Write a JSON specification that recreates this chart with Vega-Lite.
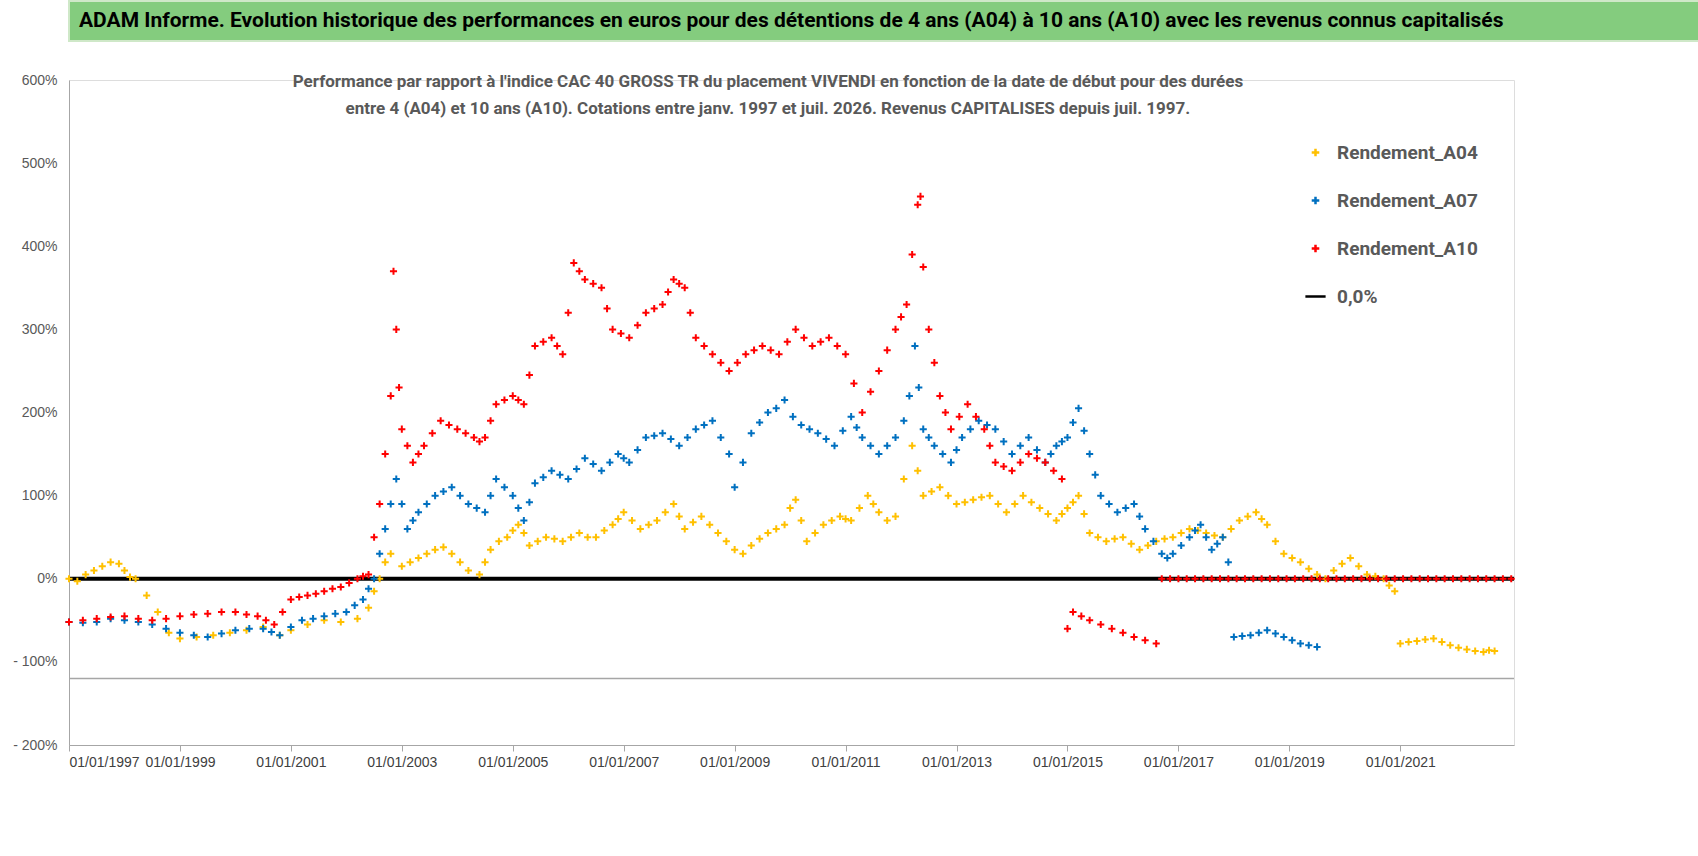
{
"$schema":"https://vega.github.io/schema/vega-lite/v6.json",
"background":"white","padding":{"left":12,"top":0,"right":0,"bottom":0},
"config":{"font":"Roboto","concat":{"spacing":30}},
"vconcat":[
{"width":1676,"height":40,"view":{"fill":"#84CC7E","stroke":"#CFE8C8","strokeWidth":2},
 "data":{"values":[{"t":"ADAM Informe. Evolution historique des performances en euros pour des détentions de 4 ans (A04) à 10 ans (A10) avec les revenus connus capitalisés"}]},
 "mark":{"type":"text","fontSize":21,"fontWeight":"bold","color":"black","x":10,"y":20,"align":"left","baseline":"middle","font":"Roboto"},
 "encoding":{"text":{"field":"t"}}},
{"width":1445,"height":665,
 "layer":[
 {"data":{"values":[{"v":-120}]},"mark":{"type":"rule","color":"#A6A6A6","strokeWidth":1.5},"encoding":{"y":{"field":"v","type":"quantitative"}}},
 {"data":{"values":[{"a":"Performance par rapport à l'indice CAC 40 GROSS TR  du placement VIVENDI en fonction de la date de début pour des durées","x":2009.6,"y":597},{"a":"entre 4 (A04) et 10 ans (A10).  Cotations entre janv. 1997 et juil. 2026. Revenus CAPITALISES depuis juil. 1997.","x":2009.6,"y":565}]},
  "mark":{"type":"text","fontSize":17,"fontWeight":"bold","color":"#595959"},
  "encoding":{"x":{"field":"x","type":"quantitative"},"y":{"field":"y","type":"quantitative"},"text":{"field":"a"}}},
 {"data":{"values":[{"v":0,"s":"0,0%"}]},"mark":{"type":"rule","strokeWidth":4},"encoding":{"y":{"field":"v","type":"quantitative"},"color":{"field":"s","type":"nominal"}}},
 {"data":{"values":[
{"t":1997.0,"v":0,"s":"Rendement_A04"},{"t":1997.15,"v":-3,"s":"Rendement_A04"},{"t":1997.3,"v":5,"s":"Rendement_A04"},{"t":1997.45,"v":10,"s":"Rendement_A04"},{"t":1997.6,"v":15,"s":"Rendement_A04"},{"t":1997.75,"v":20,"s":"Rendement_A04"},{"t":1997.9,"v":18,"s":"Rendement_A04"},{"t":1998.0,"v":10,"s":"Rendement_A04"},{"t":1998.1,"v":2,"s":"Rendement_A04"},{"t":1998.2,"v":0,"s":"Rendement_A04"},{"t":1998.4,"v":-20,"s":"Rendement_A04"},{"t":1998.6,"v":-40,"s":"Rendement_A04"},{"t":1998.8,"v":-65,"s":"Rendement_A04"},{"t":1999.0,"v":-72,"s":"Rendement_A04"},{"t":1999.3,"v":-70,"s":"Rendement_A04"},{"t":1999.6,"v":-68,"s":"Rendement_A04"},{"t":1999.9,"v":-65,"s":"Rendement_A04"},{"t":2000.2,"v":-62,"s":"Rendement_A04"},{"t":2000.5,"v":-58,"s":"Rendement_A04"},{"t":2000.8,"v":-68,"s":"Rendement_A04"},{"t":2001.0,"v":-62,"s":"Rendement_A04"},{"t":2001.3,"v":-55,"s":"Rendement_A04"},{"t":2001.6,"v":-50,"s":"Rendement_A04"},{"t":2001.9,"v":-52,"s":"Rendement_A04"},{"t":2002.2,"v":-48,"s":"Rendement_A04"},{"t":2002.4,"v":-35,"s":"Rendement_A04"},{"t":2002.5,"v":-15,"s":"Rendement_A04"},{"t":2002.6,"v":0,"s":"Rendement_A04"},{"t":2002.7,"v":20,"s":"Rendement_A04"},{"t":2002.8,"v":30,"s":"Rendement_A04"},{"t":2003.0,"v":15,"s":"Rendement_A04"},{"t":2003.15,"v":20,"s":"Rendement_A04"},{"t":2003.3,"v":25,"s":"Rendement_A04"},{"t":2003.45,"v":30,"s":"Rendement_A04"},{"t":2003.6,"v":35,"s":"Rendement_A04"},{"t":2003.75,"v":38,"s":"Rendement_A04"},{"t":2003.9,"v":30,"s":"Rendement_A04"},{"t":2004.05,"v":20,"s":"Rendement_A04"},{"t":2004.2,"v":10,"s":"Rendement_A04"},{"t":2004.4,"v":5,"s":"Rendement_A04"},{"t":2004.5,"v":20,"s":"Rendement_A04"},{"t":2004.6,"v":35,"s":"Rendement_A04"},{"t":2004.75,"v":45,"s":"Rendement_A04"},{"t":2004.9,"v":50,"s":"Rendement_A04"},{"t":2005.0,"v":58,"s":"Rendement_A04"},{"t":2005.1,"v":65,"s":"Rendement_A04"},{"t":2005.2,"v":55,"s":"Rendement_A04"},{"t":2005.3,"v":40,"s":"Rendement_A04"},{"t":2005.45,"v":45,"s":"Rendement_A04"},{"t":2005.6,"v":50,"s":"Rendement_A04"},{"t":2005.75,"v":48,"s":"Rendement_A04"},{"t":2005.9,"v":45,"s":"Rendement_A04"},{"t":2006.05,"v":50,"s":"Rendement_A04"},{"t":2006.2,"v":55,"s":"Rendement_A04"},{"t":2006.35,"v":50,"s":"Rendement_A04"},{"t":2006.5,"v":50,"s":"Rendement_A04"},{"t":2006.65,"v":58,"s":"Rendement_A04"},{"t":2006.8,"v":65,"s":"Rendement_A04"},{"t":2006.9,"v":72,"s":"Rendement_A04"},{"t":2007.0,"v":80,"s":"Rendement_A04"},{"t":2007.15,"v":70,"s":"Rendement_A04"},{"t":2007.3,"v":60,"s":"Rendement_A04"},{"t":2007.45,"v":65,"s":"Rendement_A04"},{"t":2007.6,"v":70,"s":"Rendement_A04"},{"t":2007.75,"v":80,"s":"Rendement_A04"},{"t":2007.9,"v":90,"s":"Rendement_A04"},{"t":2008.0,"v":75,"s":"Rendement_A04"},{"t":2008.1,"v":60,"s":"Rendement_A04"},{"t":2008.25,"v":68,"s":"Rendement_A04"},{"t":2008.4,"v":75,"s":"Rendement_A04"},{"t":2008.55,"v":65,"s":"Rendement_A04"},{"t":2008.7,"v":55,"s":"Rendement_A04"},{"t":2008.85,"v":45,"s":"Rendement_A04"},{"t":2009.0,"v":35,"s":"Rendement_A04"},{"t":2009.15,"v":30,"s":"Rendement_A04"},{"t":2009.3,"v":40,"s":"Rendement_A04"},{"t":2009.45,"v":48,"s":"Rendement_A04"},{"t":2009.6,"v":55,"s":"Rendement_A04"},{"t":2009.75,"v":60,"s":"Rendement_A04"},{"t":2009.9,"v":65,"s":"Rendement_A04"},{"t":2010.0,"v":85,"s":"Rendement_A04"},{"t":2010.1,"v":95,"s":"Rendement_A04"},{"t":2010.2,"v":70,"s":"Rendement_A04"},{"t":2010.3,"v":45,"s":"Rendement_A04"},{"t":2010.45,"v":55,"s":"Rendement_A04"},{"t":2010.6,"v":65,"s":"Rendement_A04"},{"t":2010.75,"v":70,"s":"Rendement_A04"},{"t":2010.9,"v":75,"s":"Rendement_A04"},{"t":2011.0,"v":72,"s":"Rendement_A04"},{"t":2011.1,"v":70,"s":"Rendement_A04"},{"t":2011.25,"v":85,"s":"Rendement_A04"},{"t":2011.4,"v":100,"s":"Rendement_A04"},{"t":2011.5,"v":90,"s":"Rendement_A04"},{"t":2011.6,"v":80,"s":"Rendement_A04"},{"t":2011.75,"v":70,"s":"Rendement_A04"},{"t":2011.9,"v":75,"s":"Rendement_A04"},{"t":2012.05,"v":120,"s":"Rendement_A04"},{"t":2012.2,"v":160,"s":"Rendement_A04"},{"t":2012.3,"v":130,"s":"Rendement_A04"},{"t":2012.4,"v":100,"s":"Rendement_A04"},{"t":2012.55,"v":105,"s":"Rendement_A04"},{"t":2012.7,"v":110,"s":"Rendement_A04"},{"t":2012.85,"v":100,"s":"Rendement_A04"},{"t":2013.0,"v":90,"s":"Rendement_A04"},{"t":2013.15,"v":92,"s":"Rendement_A04"},{"t":2013.3,"v":95,"s":"Rendement_A04"},{"t":2013.45,"v":98,"s":"Rendement_A04"},{"t":2013.6,"v":100,"s":"Rendement_A04"},{"t":2013.75,"v":90,"s":"Rendement_A04"},{"t":2013.9,"v":80,"s":"Rendement_A04"},{"t":2014.05,"v":90,"s":"Rendement_A04"},{"t":2014.2,"v":100,"s":"Rendement_A04"},{"t":2014.35,"v":92,"s":"Rendement_A04"},{"t":2014.5,"v":85,"s":"Rendement_A04"},{"t":2014.65,"v":78,"s":"Rendement_A04"},{"t":2014.8,"v":70,"s":"Rendement_A04"},{"t":2014.9,"v":78,"s":"Rendement_A04"},{"t":2015.0,"v":85,"s":"Rendement_A04"},{"t":2015.1,"v":92,"s":"Rendement_A04"},{"t":2015.2,"v":100,"s":"Rendement_A04"},{"t":2015.3,"v":78,"s":"Rendement_A04"},{"t":2015.4,"v":55,"s":"Rendement_A04"},{"t":2015.55,"v":50,"s":"Rendement_A04"},{"t":2015.7,"v":45,"s":"Rendement_A04"},{"t":2015.85,"v":48,"s":"Rendement_A04"},{"t":2016.0,"v":50,"s":"Rendement_A04"},{"t":2016.15,"v":42,"s":"Rendement_A04"},{"t":2016.3,"v":35,"s":"Rendement_A04"},{"t":2016.45,"v":40,"s":"Rendement_A04"},{"t":2016.6,"v":45,"s":"Rendement_A04"},{"t":2016.75,"v":48,"s":"Rendement_A04"},{"t":2016.9,"v":50,"s":"Rendement_A04"},{"t":2017.05,"v":55,"s":"Rendement_A04"},{"t":2017.2,"v":60,"s":"Rendement_A04"},{"t":2017.35,"v":58,"s":"Rendement_A04"},{"t":2017.5,"v":55,"s":"Rendement_A04"},{"t":2017.65,"v":52,"s":"Rendement_A04"},{"t":2017.8,"v":50,"s":"Rendement_A04"},{"t":2017.95,"v":60,"s":"Rendement_A04"},{"t":2018.1,"v":70,"s":"Rendement_A04"},{"t":2018.25,"v":75,"s":"Rendement_A04"},{"t":2018.4,"v":80,"s":"Rendement_A04"},{"t":2018.5,"v":72,"s":"Rendement_A04"},{"t":2018.6,"v":65,"s":"Rendement_A04"},{"t":2018.75,"v":45,"s":"Rendement_A04"},{"t":2018.9,"v":30,"s":"Rendement_A04"},{"t":2019.05,"v":25,"s":"Rendement_A04"},{"t":2019.2,"v":20,"s":"Rendement_A04"},{"t":2019.35,"v":12,"s":"Rendement_A04"},{"t":2019.5,"v":5,"s":"Rendement_A04"},{"t":2019.65,"v":0,"s":"Rendement_A04"},{"t":2019.8,"v":10,"s":"Rendement_A04"},{"t":2019.95,"v":18,"s":"Rendement_A04"},{"t":2020.1,"v":25,"s":"Rendement_A04"},{"t":2020.25,"v":15,"s":"Rendement_A04"},{"t":2020.4,"v":5,"s":"Rendement_A04"},{"t":2020.55,"v":3,"s":"Rendement_A04"},{"t":2020.7,"v":0,"s":"Rendement_A04"},{"t":2020.8,"v":-8,"s":"Rendement_A04"},{"t":2020.9,"v":-15,"s":"Rendement_A04"},
{"t":2021.0,"v":-78,"s":"Rendement_A04"},{"t":2021.15,"v":-76,"s":"Rendement_A04"},{"t":2021.3,"v":-75,"s":"Rendement_A04"},{"t":2021.45,"v":-73,"s":"Rendement_A04"},{"t":2021.6,"v":-72,"s":"Rendement_A04"},{"t":2021.75,"v":-76,"s":"Rendement_A04"},{"t":2021.9,"v":-80,"s":"Rendement_A04"},{"t":2022.05,"v":-83,"s":"Rendement_A04"},{"t":2022.2,"v":-85,"s":"Rendement_A04"},{"t":2022.35,"v":-87,"s":"Rendement_A04"},{"t":2022.5,"v":-88,"s":"Rendement_A04"},{"t":2022.6,"v":-86,"s":"Rendement_A04"},{"t":2022.7,"v":-87,"s":"Rendement_A04"},
{"t":1997.0,"v":-52,"s":"Rendement_A07"},{"t":1997.25,"v":-53,"s":"Rendement_A07"},{"t":1997.5,"v":-52,"s":"Rendement_A07"},{"t":1997.75,"v":-48,"s":"Rendement_A07"},{"t":1998.0,"v":-50,"s":"Rendement_A07"},{"t":1998.25,"v":-52,"s":"Rendement_A07"},{"t":1998.5,"v":-55,"s":"Rendement_A07"},{"t":1998.75,"v":-60,"s":"Rendement_A07"},{"t":1999.0,"v":-65,"s":"Rendement_A07"},{"t":1999.25,"v":-68,"s":"Rendement_A07"},{"t":1999.5,"v":-70,"s":"Rendement_A07"},{"t":1999.75,"v":-66,"s":"Rendement_A07"},{"t":2000.0,"v":-62,"s":"Rendement_A07"},{"t":2000.25,"v":-60,"s":"Rendement_A07"},{"t":2000.5,"v":-60,"s":"Rendement_A07"},{"t":2000.65,"v":-64,"s":"Rendement_A07"},{"t":2000.8,"v":-68,"s":"Rendement_A07"},{"t":2001.0,"v":-58,"s":"Rendement_A07"},{"t":2001.2,"v":-50,"s":"Rendement_A07"},{"t":2001.4,"v":-48,"s":"Rendement_A07"},{"t":2001.6,"v":-45,"s":"Rendement_A07"},{"t":2001.8,"v":-42,"s":"Rendement_A07"},{"t":2002.0,"v":-40,"s":"Rendement_A07"},{"t":2002.15,"v":-32,"s":"Rendement_A07"},{"t":2002.3,"v":-25,"s":"Rendement_A07"},{"t":2002.4,"v":-12,"s":"Rendement_A07"},{"t":2002.5,"v":0,"s":"Rendement_A07"},{"t":2002.6,"v":30,"s":"Rendement_A07"},{"t":2002.7,"v":60,"s":"Rendement_A07"},{"t":2002.8,"v":90,"s":"Rendement_A07"},{"t":2002.9,"v":120,"s":"Rendement_A07"},{"t":2003.0,"v":90,"s":"Rendement_A07"},{"t":2003.1,"v":60,"s":"Rendement_A07"},{"t":2003.2,"v":70,"s":"Rendement_A07"},{"t":2003.3,"v":80,"s":"Rendement_A07"},{"t":2003.45,"v":90,"s":"Rendement_A07"},{"t":2003.6,"v":100,"s":"Rendement_A07"},{"t":2003.75,"v":105,"s":"Rendement_A07"},{"t":2003.9,"v":110,"s":"Rendement_A07"},{"t":2004.05,"v":100,"s":"Rendement_A07"},{"t":2004.2,"v":90,"s":"Rendement_A07"},{"t":2004.35,"v":85,"s":"Rendement_A07"},{"t":2004.5,"v":80,"s":"Rendement_A07"},{"t":2004.6,"v":100,"s":"Rendement_A07"},{"t":2004.7,"v":120,"s":"Rendement_A07"},{"t":2004.85,"v":110,"s":"Rendement_A07"},{"t":2005.0,"v":100,"s":"Rendement_A07"},{"t":2005.1,"v":85,"s":"Rendement_A07"},{"t":2005.2,"v":70,"s":"Rendement_A07"},{"t":2005.3,"v":92,"s":"Rendement_A07"},{"t":2005.4,"v":115,"s":"Rendement_A07"},{"t":2005.55,"v":122,"s":"Rendement_A07"},{"t":2005.7,"v":130,"s":"Rendement_A07"},{"t":2005.85,"v":125,"s":"Rendement_A07"},{"t":2006.0,"v":120,"s":"Rendement_A07"},{"t":2006.15,"v":132,"s":"Rendement_A07"},{"t":2006.3,"v":145,"s":"Rendement_A07"},{"t":2006.45,"v":138,"s":"Rendement_A07"},{"t":2006.6,"v":130,"s":"Rendement_A07"},{"t":2006.75,"v":140,"s":"Rendement_A07"},{"t":2006.9,"v":150,"s":"Rendement_A07"},{"t":2007.0,"v":145,"s":"Rendement_A07"},{"t":2007.1,"v":140,"s":"Rendement_A07"},{"t":2007.25,"v":155,"s":"Rendement_A07"},{"t":2007.4,"v":170,"s":"Rendement_A07"},{"t":2007.55,"v":172,"s":"Rendement_A07"},{"t":2007.7,"v":175,"s":"Rendement_A07"},{"t":2007.85,"v":168,"s":"Rendement_A07"},{"t":2008.0,"v":160,"s":"Rendement_A07"},{"t":2008.15,"v":170,"s":"Rendement_A07"},{"t":2008.3,"v":180,"s":"Rendement_A07"},{"t":2008.45,"v":185,"s":"Rendement_A07"},{"t":2008.6,"v":190,"s":"Rendement_A07"},{"t":2008.75,"v":170,"s":"Rendement_A07"},{"t":2008.9,"v":150,"s":"Rendement_A07"},{"t":2009.0,"v":110,"s":"Rendement_A07"},{"t":2009.15,"v":140,"s":"Rendement_A07"},{"t":2009.3,"v":175,"s":"Rendement_A07"},{"t":2009.45,"v":188,"s":"Rendement_A07"},{"t":2009.6,"v":200,"s":"Rendement_A07"},{"t":2009.75,"v":205,"s":"Rendement_A07"},{"t":2009.9,"v":215,"s":"Rendement_A07"},{"t":2010.05,"v":195,"s":"Rendement_A07"},{"t":2010.2,"v":185,"s":"Rendement_A07"},{"t":2010.35,"v":180,"s":"Rendement_A07"},{"t":2010.5,"v":175,"s":"Rendement_A07"},{"t":2010.65,"v":168,"s":"Rendement_A07"},{"t":2010.8,"v":160,"s":"Rendement_A07"},{"t":2010.95,"v":178,"s":"Rendement_A07"},{"t":2011.1,"v":195,"s":"Rendement_A07"},{"t":2011.2,"v":182,"s":"Rendement_A07"},{"t":2011.3,"v":170,"s":"Rendement_A07"},{"t":2011.45,"v":160,"s":"Rendement_A07"},{"t":2011.6,"v":150,"s":"Rendement_A07"},{"t":2011.75,"v":160,"s":"Rendement_A07"},{"t":2011.9,"v":170,"s":"Rendement_A07"},{"t":2012.05,"v":190,"s":"Rendement_A07"},{"t":2012.15,"v":220,"s":"Rendement_A07"},{"t":2012.25,"v":280,"s":"Rendement_A07"},{"t":2012.32,"v":230,"s":"Rendement_A07"},{"t":2012.4,"v":180,"s":"Rendement_A07"},{"t":2012.5,"v":170,"s":"Rendement_A07"},{"t":2012.6,"v":160,"s":"Rendement_A07"},{"t":2012.75,"v":150,"s":"Rendement_A07"},{"t":2012.9,"v":140,"s":"Rendement_A07"},{"t":2013.0,"v":155,"s":"Rendement_A07"},{"t":2013.1,"v":170,"s":"Rendement_A07"},{"t":2013.25,"v":180,"s":"Rendement_A07"},{"t":2013.4,"v":190,"s":"Rendement_A07"},{"t":2013.55,"v":185,"s":"Rendement_A07"},{"t":2013.7,"v":180,"s":"Rendement_A07"},{"t":2013.85,"v":165,"s":"Rendement_A07"},{"t":2014.0,"v":150,"s":"Rendement_A07"},{"t":2014.15,"v":160,"s":"Rendement_A07"},{"t":2014.3,"v":170,"s":"Rendement_A07"},{"t":2014.45,"v":155,"s":"Rendement_A07"},{"t":2014.6,"v":140,"s":"Rendement_A07"},{"t":2014.7,"v":150,"s":"Rendement_A07"},{"t":2014.8,"v":160,"s":"Rendement_A07"},{"t":2014.9,"v":165,"s":"Rendement_A07"},{"t":2015.0,"v":170,"s":"Rendement_A07"},{"t":2015.1,"v":188,"s":"Rendement_A07"},{"t":2015.2,"v":205,"s":"Rendement_A07"},{"t":2015.3,"v":178,"s":"Rendement_A07"},{"t":2015.4,"v":150,"s":"Rendement_A07"},{"t":2015.5,"v":125,"s":"Rendement_A07"},{"t":2015.6,"v":100,"s":"Rendement_A07"},{"t":2015.75,"v":90,"s":"Rendement_A07"},{"t":2015.9,"v":80,"s":"Rendement_A07"},{"t":2016.05,"v":85,"s":"Rendement_A07"},{"t":2016.2,"v":90,"s":"Rendement_A07"},{"t":2016.3,"v":75,"s":"Rendement_A07"},{"t":2016.4,"v":60,"s":"Rendement_A07"},{"t":2016.55,"v":45,"s":"Rendement_A07"},{"t":2016.7,"v":30,"s":"Rendement_A07"},{"t":2016.8,"v":25,"s":"Rendement_A07"},{"t":2016.9,"v":30,"s":"Rendement_A07"},{"t":2017.05,"v":40,"s":"Rendement_A07"},{"t":2017.2,"v":50,"s":"Rendement_A07"},{"t":2017.3,"v":58,"s":"Rendement_A07"},{"t":2017.4,"v":65,"s":"Rendement_A07"},{"t":2017.5,"v":50,"s":"Rendement_A07"},{"t":2017.6,"v":35,"s":"Rendement_A07"},{"t":2017.7,"v":42,"s":"Rendement_A07"},{"t":2017.8,"v":50,"s":"Rendement_A07"},{"t":2017.9,"v":20,"s":"Rendement_A07"},
{"t":2018.0,"v":-70,"s":"Rendement_A07"},{"t":2018.15,"v":-69,"s":"Rendement_A07"},{"t":2018.3,"v":-68,"s":"Rendement_A07"},{"t":2018.45,"v":-65,"s":"Rendement_A07"},{"t":2018.6,"v":-62,"s":"Rendement_A07"},{"t":2018.75,"v":-66,"s":"Rendement_A07"},{"t":2018.9,"v":-70,"s":"Rendement_A07"},{"t":2019.05,"v":-74,"s":"Rendement_A07"},{"t":2019.2,"v":-78,"s":"Rendement_A07"},{"t":2019.35,"v":-80,"s":"Rendement_A07"},{"t":2019.5,"v":-82,"s":"Rendement_A07"},
{"t":1997.0,"v":-52,"s":"Rendement_A10"},{"t":1997.25,"v":-50,"s":"Rendement_A10"},{"t":1997.5,"v":-48,"s":"Rendement_A10"},{"t":1997.75,"v":-46,"s":"Rendement_A10"},{"t":1998.0,"v":-45,"s":"Rendement_A10"},{"t":1998.25,"v":-48,"s":"Rendement_A10"},{"t":1998.5,"v":-50,"s":"Rendement_A10"},{"t":1998.75,"v":-48,"s":"Rendement_A10"},{"t":1999.0,"v":-45,"s":"Rendement_A10"},{"t":1999.25,"v":-43,"s":"Rendement_A10"},{"t":1999.5,"v":-42,"s":"Rendement_A10"},{"t":1999.75,"v":-40,"s":"Rendement_A10"},{"t":2000.0,"v":-40,"s":"Rendement_A10"},{"t":2000.2,"v":-43,"s":"Rendement_A10"},{"t":2000.4,"v":-45,"s":"Rendement_A10"},{"t":2000.55,"v":-50,"s":"Rendement_A10"},{"t":2000.7,"v":-55,"s":"Rendement_A10"},{"t":2000.85,"v":-40,"s":"Rendement_A10"},{"t":2001.0,"v":-25,"s":"Rendement_A10"},{"t":2001.15,"v":-22,"s":"Rendement_A10"},{"t":2001.3,"v":-20,"s":"Rendement_A10"},{"t":2001.45,"v":-18,"s":"Rendement_A10"},{"t":2001.6,"v":-15,"s":"Rendement_A10"},{"t":2001.75,"v":-12,"s":"Rendement_A10"},{"t":2001.9,"v":-10,"s":"Rendement_A10"},{"t":2002.05,"v":-5,"s":"Rendement_A10"},{"t":2002.2,"v":0,"s":"Rendement_A10"},{"t":2002.3,"v":3,"s":"Rendement_A10"},{"t":2002.4,"v":5,"s":"Rendement_A10"},{"t":2002.5,"v":50,"s":"Rendement_A10"},{"t":2002.6,"v":90,"s":"Rendement_A10"},{"t":2002.7,"v":150,"s":"Rendement_A10"},{"t":2002.8,"v":220,"s":"Rendement_A10"},{"t":2002.85,"v":370,"s":"Rendement_A10"},{"t":2002.9,"v":300,"s":"Rendement_A10"},{"t":2002.95,"v":230,"s":"Rendement_A10"},{"t":2003.0,"v":180,"s":"Rendement_A10"},{"t":2003.1,"v":160,"s":"Rendement_A10"},{"t":2003.2,"v":140,"s":"Rendement_A10"},{"t":2003.3,"v":150,"s":"Rendement_A10"},{"t":2003.4,"v":160,"s":"Rendement_A10"},{"t":2003.55,"v":175,"s":"Rendement_A10"},{"t":2003.7,"v":190,"s":"Rendement_A10"},{"t":2003.85,"v":185,"s":"Rendement_A10"},{"t":2004.0,"v":180,"s":"Rendement_A10"},{"t":2004.15,"v":175,"s":"Rendement_A10"},{"t":2004.3,"v":170,"s":"Rendement_A10"},{"t":2004.4,"v":165,"s":"Rendement_A10"},{"t":2004.5,"v":170,"s":"Rendement_A10"},{"t":2004.6,"v":190,"s":"Rendement_A10"},{"t":2004.7,"v":210,"s":"Rendement_A10"},{"t":2004.85,"v":215,"s":"Rendement_A10"},{"t":2005.0,"v":220,"s":"Rendement_A10"},{"t":2005.1,"v":215,"s":"Rendement_A10"},{"t":2005.2,"v":210,"s":"Rendement_A10"},{"t":2005.3,"v":245,"s":"Rendement_A10"},{"t":2005.4,"v":280,"s":"Rendement_A10"},{"t":2005.55,"v":285,"s":"Rendement_A10"},{"t":2005.7,"v":290,"s":"Rendement_A10"},{"t":2005.8,"v":280,"s":"Rendement_A10"},{"t":2005.9,"v":270,"s":"Rendement_A10"},{"t":2006.0,"v":320,"s":"Rendement_A10"},{"t":2006.1,"v":380,"s":"Rendement_A10"},{"t":2006.2,"v":370,"s":"Rendement_A10"},{"t":2006.3,"v":360,"s":"Rendement_A10"},{"t":2006.45,"v":355,"s":"Rendement_A10"},{"t":2006.6,"v":350,"s":"Rendement_A10"},{"t":2006.7,"v":325,"s":"Rendement_A10"},{"t":2006.8,"v":300,"s":"Rendement_A10"},{"t":2006.95,"v":295,"s":"Rendement_A10"},{"t":2007.1,"v":290,"s":"Rendement_A10"},{"t":2007.25,"v":305,"s":"Rendement_A10"},{"t":2007.4,"v":320,"s":"Rendement_A10"},{"t":2007.55,"v":325,"s":"Rendement_A10"},{"t":2007.7,"v":330,"s":"Rendement_A10"},{"t":2007.8,"v":345,"s":"Rendement_A10"},{"t":2007.9,"v":360,"s":"Rendement_A10"},{"t":2008.0,"v":355,"s":"Rendement_A10"},{"t":2008.1,"v":350,"s":"Rendement_A10"},{"t":2008.2,"v":320,"s":"Rendement_A10"},{"t":2008.3,"v":290,"s":"Rendement_A10"},{"t":2008.45,"v":280,"s":"Rendement_A10"},{"t":2008.6,"v":270,"s":"Rendement_A10"},{"t":2008.75,"v":260,"s":"Rendement_A10"},{"t":2008.9,"v":250,"s":"Rendement_A10"},{"t":2009.05,"v":260,"s":"Rendement_A10"},{"t":2009.2,"v":270,"s":"Rendement_A10"},{"t":2009.35,"v":275,"s":"Rendement_A10"},{"t":2009.5,"v":280,"s":"Rendement_A10"},{"t":2009.65,"v":275,"s":"Rendement_A10"},{"t":2009.8,"v":270,"s":"Rendement_A10"},{"t":2009.95,"v":285,"s":"Rendement_A10"},{"t":2010.1,"v":300,"s":"Rendement_A10"},{"t":2010.25,"v":290,"s":"Rendement_A10"},{"t":2010.4,"v":280,"s":"Rendement_A10"},{"t":2010.55,"v":285,"s":"Rendement_A10"},{"t":2010.7,"v":290,"s":"Rendement_A10"},{"t":2010.85,"v":280,"s":"Rendement_A10"},{"t":2011.0,"v":270,"s":"Rendement_A10"},{"t":2011.15,"v":235,"s":"Rendement_A10"},{"t":2011.3,"v":200,"s":"Rendement_A10"},{"t":2011.45,"v":225,"s":"Rendement_A10"},{"t":2011.6,"v":250,"s":"Rendement_A10"},{"t":2011.75,"v":275,"s":"Rendement_A10"},{"t":2011.9,"v":300,"s":"Rendement_A10"},{"t":2012.0,"v":315,"s":"Rendement_A10"},{"t":2012.1,"v":330,"s":"Rendement_A10"},{"t":2012.2,"v":390,"s":"Rendement_A10"},{"t":2012.3,"v":450,"s":"Rendement_A10"},{"t":2012.35,"v":460,"s":"Rendement_A10"},{"t":2012.4,"v":375,"s":"Rendement_A10"},{"t":2012.5,"v":300,"s":"Rendement_A10"},{"t":2012.6,"v":260,"s":"Rendement_A10"},{"t":2012.7,"v":220,"s":"Rendement_A10"},{"t":2012.8,"v":200,"s":"Rendement_A10"},{"t":2012.9,"v":180,"s":"Rendement_A10"},{"t":2013.05,"v":195,"s":"Rendement_A10"},{"t":2013.2,"v":210,"s":"Rendement_A10"},{"t":2013.35,"v":195,"s":"Rendement_A10"},{"t":2013.5,"v":180,"s":"Rendement_A10"},{"t":2013.6,"v":160,"s":"Rendement_A10"},{"t":2013.7,"v":140,"s":"Rendement_A10"},{"t":2013.85,"v":135,"s":"Rendement_A10"},{"t":2014.0,"v":130,"s":"Rendement_A10"},{"t":2014.15,"v":140,"s":"Rendement_A10"},{"t":2014.3,"v":150,"s":"Rendement_A10"},{"t":2014.45,"v":145,"s":"Rendement_A10"},{"t":2014.6,"v":140,"s":"Rendement_A10"},{"t":2014.75,"v":130,"s":"Rendement_A10"},{"t":2014.9,"v":120,"s":"Rendement_A10"},
{"t":2015.0,"v":-60,"s":"Rendement_A10"},{"t":2015.1,"v":-40,"s":"Rendement_A10"},{"t":2015.25,"v":-45,"s":"Rendement_A10"},{"t":2015.4,"v":-50,"s":"Rendement_A10"},{"t":2015.6,"v":-55,"s":"Rendement_A10"},{"t":2015.8,"v":-60,"s":"Rendement_A10"},{"t":2016.0,"v":-65,"s":"Rendement_A10"},{"t":2016.2,"v":-70,"s":"Rendement_A10"},{"t":2016.4,"v":-74,"s":"Rendement_A10"},{"t":2016.6,"v":-78,"s":"Rendement_A10"},
{"t":2016.7,"v":0,"s":"Rendement_A10"},{"t":2016.85,"v":0,"s":"Rendement_A10"},{"t":2017.0,"v":0,"s":"Rendement_A10"},{"t":2017.15,"v":0,"s":"Rendement_A10"},{"t":2017.3,"v":0,"s":"Rendement_A10"},{"t":2017.45,"v":0,"s":"Rendement_A10"},{"t":2017.6,"v":0,"s":"Rendement_A10"},{"t":2017.75,"v":0,"s":"Rendement_A10"},{"t":2017.9,"v":0,"s":"Rendement_A10"},{"t":2018.05,"v":0,"s":"Rendement_A10"},{"t":2018.2,"v":0,"s":"Rendement_A10"},{"t":2018.35,"v":0,"s":"Rendement_A10"},{"t":2018.5,"v":0,"s":"Rendement_A10"},{"t":2018.65,"v":0,"s":"Rendement_A10"},{"t":2018.8,"v":0,"s":"Rendement_A10"},{"t":2018.95,"v":0,"s":"Rendement_A10"},{"t":2019.1,"v":0,"s":"Rendement_A10"},{"t":2019.25,"v":0,"s":"Rendement_A10"},{"t":2019.4,"v":0,"s":"Rendement_A10"},{"t":2019.55,"v":0,"s":"Rendement_A10"},{"t":2019.7,"v":0,"s":"Rendement_A10"},{"t":2019.85,"v":0,"s":"Rendement_A10"},{"t":2020.0,"v":0,"s":"Rendement_A10"},{"t":2020.15,"v":0,"s":"Rendement_A10"},{"t":2020.3,"v":0,"s":"Rendement_A10"},{"t":2020.45,"v":0,"s":"Rendement_A10"},{"t":2020.6,"v":0,"s":"Rendement_A10"},{"t":2020.75,"v":0,"s":"Rendement_A10"},{"t":2020.9,"v":0,"s":"Rendement_A10"},{"t":2021.05,"v":0,"s":"Rendement_A10"},{"t":2021.2,"v":0,"s":"Rendement_A10"},{"t":2021.35,"v":0,"s":"Rendement_A10"},{"t":2021.5,"v":0,"s":"Rendement_A10"},{"t":2021.65,"v":0,"s":"Rendement_A10"},{"t":2021.8,"v":0,"s":"Rendement_A10"},{"t":2021.95,"v":0,"s":"Rendement_A10"},{"t":2022.1,"v":0,"s":"Rendement_A10"},{"t":2022.25,"v":0,"s":"Rendement_A10"},{"t":2022.4,"v":0,"s":"Rendement_A10"},{"t":2022.55,"v":0,"s":"Rendement_A10"},{"t":2022.7,"v":0,"s":"Rendement_A10"},{"t":2022.85,"v":0,"s":"Rendement_A10"},{"t":2023.0,"v":0,"s":"Rendement_A10"}
 ]},
  "mark":{"type":"point","filled":false,"strokeWidth":2,"size":140,"opacity":1},
  "encoding":{
   "x":{"field":"t","type":"quantitative","scale":{"domain":[1997,2023.05],"nice":false,"zero":false},
     "axis":{"title":null,"values":[1997,1999,2001,2003,2005,2007,2009,2011,2013,2015,2017,2019,2021],"labelExpr":"'01/01/' + datum.value","labelFontSize":14,"labelColor":"#404040","labelFont":"Liberation Sans","grid":false,"domainColor":"#A6A6A6","tickColor":"#A6A6A6","tickSize":6,"labelPadding":4}},
   "y":{"field":"v","type":"quantitative","scale":{"domain":[-200,600],"nice":false},
     "axis":{"title":null,"values":[-200,-100,0,100,200,300,400,500,600],"labelExpr":"datum.value < 0 ? '- ' + (-datum.value) + '%' : datum.value + '%'","labelFontSize":14,"labelColor":"#595959","labelFont":"Liberation Sans","grid":false,"domainColor":"#A6A6A6","ticks":false,"labelPadding":12}},
   "color":{"field":"s","type":"nominal","scale":{"domain":["Rendement_A04","Rendement_A07","Rendement_A10","0,0%"],"range":["#FFC000","#0070C0","#FF0000","#000000"]},
     "legend":{"title":null,"orient":"none","legendX":1215,"legendY":120,"fillColor":"white","padding":22,"labelFontSize":19,"labelFont":"Roboto","labelFontWeight":"bold","labelColor":"#595959","rowPadding":28,"symbolSize":160,"symbolStrokeWidth":2.5,"labelOffset":12}},
   "shape":{"field":"s","type":"nominal","scale":{"domain":["Rendement_A04","Rendement_A07","Rendement_A10","0,0%"],"range":["M-0.6,0H0.6M0,-0.6V0.6","M-0.6,0H0.6M0,-0.6V0.6","M-0.6,0H0.6M0,-0.6V0.6","M-1.6,0H1.6"]},"legend":null}
  }}
 ]}
]}
